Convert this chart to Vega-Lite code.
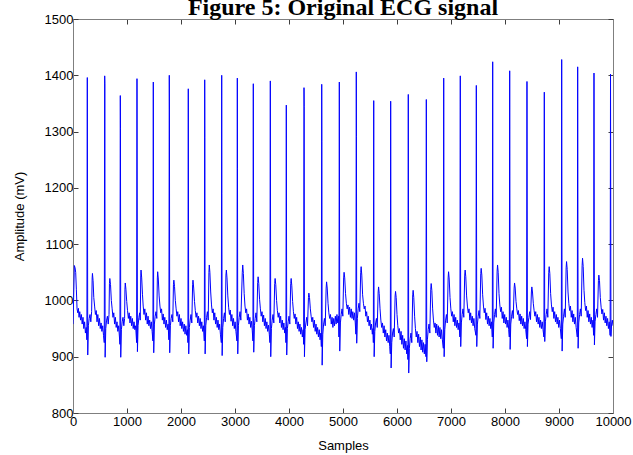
{
"$schema": "https://vega.github.io/schema/vega-lite/v6.json",
"width": 540, "height": 394,
"autosize": {"type": "none"},
"padding": {"left": 73, "top": 19, "right": 20, "bottom": 42},
"background": "white",
"title": {"text": "Figure 5: Original ECG signal", "font": "Liberation Serif", "fontSize": 24, "fontWeight": "bold", "color": "black", "anchor": "middle", "baseline": "alphabetic", "offset": 0, "dy": 26},
"data": {"values": [
{"s":0,"v":958},{"s":12,"v":1005},{"s":25,"v":1062},{"s":38,"v":1058},{"s":50,"v":1050},{"s":62,"v":1020},{"s":75,"v":985},{"s":88,"v":978},{"s":100,"v":986},{"s":112,"v":970},{"s":125,"v":980},{"s":140,"v":965},{"s":155,"v":975},{"s":170,"v":958},{"s":185,"v":970},{"s":200,"v":950},{"s":215,"v":962},{"s":230,"v":942},{"s":245,"v":952},{"s":257,"v":930},
{"s":265,"v":1396},{"s":273,"v":903},{"s":285,"v":955},{"s":300,"v":968},{"s":315,"v":975},{"s":330,"v":962},{"s":345,"v":980},{"s":355,"v":1040},{"s":360,"v":1048},{"s":372,"v":1035},{"s":385,"v":1005},{"s":400,"v":990},{"s":415,"v":975},{"s":430,"v":982},{"s":445,"v":962},{"s":460,"v":975},{"s":475,"v":955},{"s":490,"v":968},{"s":505,"v":950},{"s":520,"v":960},{"s":535,"v":945},{"s":550,"v":955},{"s":565,"v":938},{"s":579,"v":925},
{"s":587,"v":1399},{"s":590,"v":1385},{"s":595,"v":899},{"s":607,"v":950},{"s":622,"v":965},{"s":637,"v":972},{"s":652,"v":958},{"s":667,"v":975},{"s":675,"v":1030},{"s":682,"v":1039},{"s":695,"v":1028},{"s":710,"v":1000},{"s":725,"v":985},{"s":740,"v":970},{"s":755,"v":978},{"s":770,"v":958},{"s":785,"v":970},{"s":800,"v":952},{"s":815,"v":962},{"s":830,"v":945},{"s":845,"v":955},{"s":860,"v":935},{"s":869,"v":922},
{"s":876,"v":1364},{"s":879,"v":1305},{"s":884,"v":899},{"s":896,"v":948},{"s":911,"v":962},{"s":926,"v":970},{"s":941,"v":955},{"s":956,"v":968},{"s":962,"v":1020},{"s":968,"v":1031},{"s":980,"v":1020},{"s":995,"v":998},{"s":1010,"v":982},{"s":1025,"v":968},{"s":1040,"v":978},{"s":1055,"v":960},{"s":1070,"v":972},{"s":1085,"v":955},{"s":1100,"v":968},{"s":1115,"v":950},{"s":1130,"v":962},{"s":1145,"v":948},{"s":1160,"v":955},{"s":1172,"v":935},{"s":1178,"v":925},
{"s":1185,"v":1394},{"s":1193,"v":909},{"s":1205,"v":955},{"s":1220,"v":970},{"s":1235,"v":978},{"s":1245,"v":965},{"s":1255,"v":1045},{"s":1260,"v":1054},{"s":1272,"v":1040},{"s":1287,"v":1010},{"s":1300,"v":990},{"s":1315,"v":975},{"s":1330,"v":985},{"s":1345,"v":965},{"s":1360,"v":978},{"s":1375,"v":958},{"s":1390,"v":972},{"s":1405,"v":955},{"s":1420,"v":965},{"s":1435,"v":950},{"s":1450,"v":962},{"s":1465,"v":945},{"s":1480,"v":928},
{"s":1487,"v":1388},{"s":1495,"v":907},{"s":1507,"v":958},{"s":1522,"v":972},{"s":1537,"v":980},{"s":1552,"v":968},{"s":1562,"v":1040},{"s":1568,"v":1051},{"s":1580,"v":1038},{"s":1595,"v":1008},{"s":1610,"v":990},{"s":1625,"v":978},{"s":1640,"v":985},{"s":1655,"v":965},{"s":1670,"v":976},{"s":1685,"v":958},{"s":1700,"v":970},{"s":1715,"v":952},{"s":1730,"v":965},{"s":1745,"v":948},{"s":1760,"v":958},{"s":1776,"v":930},
{"s":1783,"v":1400},{"s":1786,"v":1340},{"s":1791,"v":907},{"s":1803,"v":955},{"s":1818,"v":968},{"s":1833,"v":975},{"s":1848,"v":962},{"s":1860,"v":1028},{"s":1868,"v":1036},{"s":1880,"v":1025},{"s":1895,"v":1000},{"s":1910,"v":985},{"s":1925,"v":972},{"s":1940,"v":980},{"s":1955,"v":962},{"s":1970,"v":975},{"s":1985,"v":955},{"s":2000,"v":968},{"s":2015,"v":950},{"s":2030,"v":962},{"s":2045,"v":945},{"s":2060,"v":958},{"s":2075,"v":940},{"s":2090,"v":955},{"s":2105,"v":938},{"s":2120,"v":948},{"s":2128,"v":925},
{"s":2135,"v":1376},{"s":2143,"v":905},{"s":2155,"v":952},{"s":2170,"v":965},{"s":2185,"v":975},{"s":2200,"v":960},{"s":2215,"v":1028},{"s":2222,"v":1036},{"s":2235,"v":1022},{"s":2250,"v":998},{"s":2265,"v":982},{"s":2280,"v":970},{"s":2295,"v":978},{"s":2310,"v":960},{"s":2325,"v":972},{"s":2340,"v":955},{"s":2355,"v":968},{"s":2370,"v":950},{"s":2385,"v":962},{"s":2400,"v":945},{"s":2415,"v":955},{"s":2432,"v":928},
{"s":2439,"v":1392},{"s":2442,"v":1290},{"s":2447,"v":905},{"s":2459,"v":955},{"s":2474,"v":970},{"s":2489,"v":980},{"s":2504,"v":965},{"s":2517,"v":1050},{"s":2524,"v":1063},{"s":2535,"v":1050},{"s":2550,"v":1015},{"s":2565,"v":992},{"s":2580,"v":978},{"s":2595,"v":985},{"s":2610,"v":965},{"s":2625,"v":978},{"s":2640,"v":958},{"s":2655,"v":970},{"s":2670,"v":952},{"s":2685,"v":965},{"s":2700,"v":948},{"s":2715,"v":958},{"s":2730,"v":940},{"s":2747,"v":925},
{"s":2754,"v":1400},{"s":2757,"v":1190},{"s":2762,"v":902},{"s":2774,"v":952},{"s":2789,"v":968},{"s":2804,"v":978},{"s":2819,"v":962},{"s":2832,"v":1045},{"s":2840,"v":1054},{"s":2852,"v":1040},{"s":2867,"v":1008},{"s":2882,"v":988},{"s":2897,"v":975},{"s":2912,"v":983},{"s":2927,"v":963},{"s":2942,"v":975},{"s":2957,"v":955},{"s":2972,"v":968},{"s":2987,"v":950},{"s":3002,"v":962},{"s":3017,"v":945},{"s":3036,"v":928},
{"s":3043,"v":1395},{"s":3046,"v":1235},{"s":3051,"v":905},{"s":3063,"v":955},{"s":3078,"v":970},{"s":3093,"v":980},{"s":3108,"v":965},{"s":3135,"v":1050},{"s":3143,"v":1063},{"s":3155,"v":1048},{"s":3170,"v":1012},{"s":3185,"v":990},{"s":3200,"v":978},{"s":3215,"v":985},{"s":3230,"v":965},{"s":3245,"v":976},{"s":3260,"v":958},{"s":3275,"v":970},{"s":3290,"v":952},{"s":3305,"v":963},{"s":3320,"v":946},{"s":3332,"v":928},
{"s":3339,"v":1385},{"s":3347,"v":908},{"s":3359,"v":955},{"s":3374,"v":968},{"s":3389,"v":978},{"s":3404,"v":962},{"s":3420,"v":1032},{"s":3428,"v":1042},{"s":3440,"v":1030},{"s":3455,"v":1002},{"s":3470,"v":985},{"s":3485,"v":972},{"s":3500,"v":980},{"s":3515,"v":962},{"s":3530,"v":974},{"s":3545,"v":955},{"s":3560,"v":968},{"s":3575,"v":950},{"s":3590,"v":962},{"s":3605,"v":945},{"s":3620,"v":956},{"s":3635,"v":940},{"s":3647,"v":925},
{"s":3654,"v":1390},{"s":3662,"v":900},{"s":3674,"v":950},{"s":3689,"v":965},{"s":3704,"v":975},{"s":3719,"v":960},{"s":3735,"v":1030},{"s":3743,"v":1039},{"s":3755,"v":1028},{"s":3770,"v":1000},{"s":3785,"v":982},{"s":3800,"v":970},{"s":3815,"v":978},{"s":3830,"v":960},{"s":3845,"v":972},{"s":3860,"v":952},{"s":3875,"v":965},{"s":3890,"v":948},{"s":3905,"v":960},{"s":3920,"v":942},{"s":3935,"v":952},{"s":3943,"v":925},
{"s":3950,"v":1347},{"s":3958,"v":903},{"s":3970,"v":950},{"s":3985,"v":962},{"s":4000,"v":972},{"s":4015,"v":958},{"s":4032,"v":1030},{"s":4040,"v":1039},{"s":4052,"v":1026},{"s":4067,"v":998},{"s":4082,"v":980},{"s":4097,"v":968},{"s":4112,"v":976},{"s":4127,"v":958},{"s":4142,"v":970},{"s":4157,"v":950},{"s":4172,"v":962},{"s":4187,"v":945},{"s":4202,"v":958},{"s":4217,"v":940},{"s":4232,"v":952},{"s":4247,"v":935},{"s":4262,"v":948},{"s":4271,"v":922},
{"s":4278,"v":1378},{"s":4281,"v":1345},{"s":4286,"v":900},{"s":4298,"v":948},{"s":4313,"v":960},{"s":4328,"v":970},{"s":4343,"v":955},{"s":4360,"v":1005},{"s":4368,"v":1013},{"s":4380,"v":1005},{"s":4395,"v":985},{"s":4410,"v":972},{"s":4425,"v":962},{"s":4440,"v":970},{"s":4455,"v":952},{"s":4470,"v":965},{"s":4485,"v":945},{"s":4500,"v":958},{"s":4515,"v":940},{"s":4530,"v":952},{"s":4545,"v":935},{"s":4560,"v":948},{"s":4575,"v":930},{"s":4590,"v":942},{"s":4599,"v":918},
{"s":4606,"v":1384},{"s":4609,"v":1282},{"s":4614,"v":885},{"s":4626,"v":940},{"s":4641,"v":958},{"s":4656,"v":968},{"s":4671,"v":955},{"s":4688,"v":1022},{"s":4696,"v":1033},{"s":4708,"v":1022},{"s":4723,"v":995},{"s":4738,"v":978},{"s":4753,"v":968},{"s":4768,"v":975},{"s":4783,"v":958},{"s":4798,"v":970},{"s":4813,"v":952},{"s":4828,"v":968},{"s":4843,"v":955},{"s":4858,"v":972},{"s":4873,"v":958},{"s":4888,"v":975},{"s":4903,"v":960},{"s":4918,"v":972},{"s":4925,"v":935},
{"s":4932,"v":1388},{"s":4940,"v":910},{"s":4952,"v":960},{"s":4967,"v":975},{"s":4982,"v":985},{"s":4997,"v":972},{"s":5012,"v":1040},{"s":5020,"v":1050},{"s":5032,"v":1040},{"s":5047,"v":1012},{"s":5062,"v":995},{"s":5077,"v":985},{"s":5092,"v":992},{"s":5107,"v":975},{"s":5122,"v":988},{"s":5137,"v":970},{"s":5152,"v":985},{"s":5167,"v":968},{"s":5182,"v":980},{"s":5197,"v":965},{"s":5212,"v":978},{"s":5227,"v":960},{"s":5239,"v":940},
{"s":5246,"v":1406},{"s":5249,"v":1291},{"s":5254,"v":924},{"s":5266,"v":968},{"s":5281,"v":985},{"s":5296,"v":995},{"s":5311,"v":980},{"s":5328,"v":1050},{"s":5336,"v":1060},{"s":5348,"v":1045},{"s":5363,"v":1010},{"s":5378,"v":995},{"s":5393,"v":985},{"s":5408,"v":990},{"s":5423,"v":972},{"s":5438,"v":980},{"s":5453,"v":962},{"s":5468,"v":972},{"s":5483,"v":955},{"s":5498,"v":965},{"s":5513,"v":948},{"s":5528,"v":958},{"s":5543,"v":940},{"s":5555,"v":950},{"s":5562,"v":925},
{"s":5569,"v":1355},{"s":5572,"v":1125},{"s":5577,"v":900},{"s":5589,"v":945},{"s":5604,"v":960},{"s":5619,"v":968},{"s":5634,"v":952},{"s":5651,"v":1015},{"s":5659,"v":1024},{"s":5671,"v":1012},{"s":5686,"v":985},{"s":5701,"v":965},{"s":5716,"v":952},{"s":5731,"v":960},{"s":5746,"v":942},{"s":5761,"v":955},{"s":5776,"v":935},{"s":5791,"v":948},{"s":5806,"v":928},{"s":5821,"v":942},{"s":5836,"v":925},{"s":5851,"v":938},{"s":5866,"v":918},{"s":5876,"v":905},
{"s":5883,"v":1354},{"s":5891,"v":880},{"s":5903,"v":925},{"s":5918,"v":942},{"s":5933,"v":950},{"s":5948,"v":935},{"s":5965,"v":1008},{"s":5973,"v":1016},{"s":5985,"v":1005},{"s":6000,"v":975},{"s":6015,"v":955},{"s":6030,"v":942},{"s":6045,"v":950},{"s":6060,"v":930},{"s":6075,"v":945},{"s":6090,"v":922},{"s":6105,"v":938},{"s":6120,"v":915},{"s":6135,"v":932},{"s":6150,"v":912},{"s":6165,"v":928},{"s":6180,"v":905},{"s":6195,"v":920},{"s":6202,"v":895},
{"s":6209,"v":1366},{"s":6217,"v":871},{"s":6229,"v":915},{"s":6244,"v":932},{"s":6259,"v":942},{"s":6274,"v":925},{"s":6291,"v":1010},{"s":6299,"v":1018},{"s":6311,"v":1005},{"s":6326,"v":972},{"s":6341,"v":950},{"s":6356,"v":935},{"s":6371,"v":945},{"s":6386,"v":925},{"s":6401,"v":940},{"s":6416,"v":918},{"s":6431,"v":935},{"s":6446,"v":912},{"s":6461,"v":930},{"s":6476,"v":908},{"s":6491,"v":925},{"s":6506,"v":905},{"s":6521,"v":922},{"s":6536,"v":900},
{"s":6543,"v":1357},{"s":6551,"v":891},{"s":6563,"v":930},{"s":6578,"v":948},{"s":6593,"v":958},{"s":6608,"v":942},{"s":6625,"v":1020},{"s":6633,"v":1030},{"s":6645,"v":1018},{"s":6660,"v":985},{"s":6675,"v":965},{"s":6690,"v":952},{"s":6705,"v":960},{"s":6720,"v":942},{"s":6735,"v":958},{"s":6750,"v":938},{"s":6765,"v":955},{"s":6780,"v":935},{"s":6795,"v":952},{"s":6810,"v":932},{"s":6825,"v":948},{"s":6840,"v":930},{"s":6858,"v":915},
{"s":6865,"v":1395},{"s":6873,"v":900},{"s":6885,"v":948},{"s":6900,"v":965},{"s":6915,"v":975},{"s":6930,"v":960},{"s":6947,"v":1040},{"s":6955,"v":1051},{"s":6967,"v":1038},{"s":6982,"v":1005},{"s":6997,"v":985},{"s":7012,"v":972},{"s":7027,"v":980},{"s":7042,"v":962},{"s":7057,"v":975},{"s":7072,"v":955},{"s":7087,"v":970},{"s":7102,"v":952},{"s":7117,"v":965},{"s":7132,"v":948},{"s":7147,"v":960},{"s":7165,"v":935},
{"s":7172,"v":1399},{"s":7180,"v":918},{"s":7192,"v":960},{"s":7207,"v":975},{"s":7222,"v":985},{"s":7237,"v":970},{"s":7254,"v":1045},{"s":7262,"v":1054},{"s":7274,"v":1042},{"s":7289,"v":1008},{"s":7304,"v":990},{"s":7319,"v":978},{"s":7334,"v":985},{"s":7349,"v":965},{"s":7364,"v":978},{"s":7379,"v":960},{"s":7394,"v":972},{"s":7409,"v":955},{"s":7424,"v":968},{"s":7439,"v":950},{"s":7462,"v":938},
{"s":7469,"v":1382},{"s":7477,"v":918},{"s":7489,"v":958},{"s":7504,"v":972},{"s":7519,"v":982},{"s":7534,"v":968},{"s":7551,"v":1048},{"s":7559,"v":1057},{"s":7571,"v":1045},{"s":7586,"v":1010},{"s":7601,"v":990},{"s":7616,"v":978},{"s":7631,"v":986},{"s":7646,"v":966},{"s":7661,"v":978},{"s":7676,"v":958},{"s":7691,"v":972},{"s":7706,"v":955},{"s":7721,"v":968},{"s":7736,"v":950},{"s":7751,"v":962},{"s":7765,"v":935},
{"s":7772,"v":1424},{"s":7780,"v":915},{"s":7792,"v":960},{"s":7807,"v":975},{"s":7822,"v":985},{"s":7837,"v":970},{"s":7854,"v":1052},{"s":7862,"v":1063},{"s":7874,"v":1050},{"s":7889,"v":1012},{"s":7904,"v":992},{"s":7919,"v":980},{"s":7934,"v":988},{"s":7949,"v":968},{"s":7964,"v":980},{"s":7979,"v":960},{"s":7994,"v":975},{"s":8009,"v":958},{"s":8024,"v":970},{"s":8039,"v":952},{"s":8054,"v":965},{"s":8069,"v":948},{"s":8080,"v":935},
{"s":8087,"v":1408},{"s":8095,"v":913},{"s":8107,"v":958},{"s":8122,"v":972},{"s":8137,"v":982},{"s":8152,"v":968},{"s":8169,"v":1022},{"s":8177,"v":1031},{"s":8189,"v":1022},{"s":8204,"v":998},{"s":8219,"v":985},{"s":8234,"v":975},{"s":8249,"v":982},{"s":8264,"v":964},{"s":8279,"v":976},{"s":8294,"v":958},{"s":8309,"v":972},{"s":8324,"v":955},{"s":8339,"v":968},{"s":8354,"v":950},{"s":8369,"v":962},{"s":8384,"v":948},{"s":8400,"v":932},
{"s":8407,"v":1389},{"s":8415,"v":918},{"s":8427,"v":958},{"s":8442,"v":970},{"s":8457,"v":980},{"s":8472,"v":966},{"s":8489,"v":1015},{"s":8497,"v":1024},{"s":8509,"v":1015},{"s":8524,"v":995},{"s":8539,"v":982},{"s":8554,"v":972},{"s":8569,"v":980},{"s":8584,"v":962},{"s":8599,"v":975},{"s":8614,"v":958},{"s":8629,"v":970},{"s":8644,"v":952},{"s":8659,"v":965},{"s":8674,"v":950},{"s":8689,"v":962},{"s":8704,"v":948},{"s":8721,"v":935},
{"s":8728,"v":1370},{"s":8736,"v":927},{"s":8748,"v":962},{"s":8763,"v":975},{"s":8778,"v":985},{"s":8793,"v":970},{"s":8810,"v":1050},{"s":8818,"v":1060},{"s":8830,"v":1048},{"s":8845,"v":1012},{"s":8860,"v":992},{"s":8875,"v":980},{"s":8890,"v":988},{"s":8905,"v":968},{"s":8920,"v":980},{"s":8935,"v":962},{"s":8950,"v":975},{"s":8965,"v":958},{"s":8980,"v":970},{"s":8995,"v":952},{"s":9010,"v":965},{"s":9025,"v":950},{"s":9043,"v":932},
{"s":9050,"v":1428},{"s":9058,"v":910},{"s":9070,"v":958},{"s":9085,"v":972},{"s":9100,"v":985},{"s":9115,"v":970},{"s":9132,"v":1058},{"s":9140,"v":1069},{"s":9152,"v":1055},{"s":9167,"v":1015},{"s":9182,"v":995},{"s":9197,"v":982},{"s":9212,"v":990},{"s":9227,"v":970},{"s":9242,"v":982},{"s":9257,"v":962},{"s":9272,"v":976},{"s":9287,"v":958},{"s":9302,"v":970},{"s":9317,"v":952},{"s":9339,"v":935},
{"s":9346,"v":1415},{"s":9354,"v":915},{"s":9366,"v":960},{"s":9381,"v":975},{"s":9396,"v":985},{"s":9411,"v":972},{"s":9428,"v":1062},{"s":9436,"v":1075},{"s":9448,"v":1060},{"s":9463,"v":1018},{"s":9478,"v":996},{"s":9493,"v":982},{"s":9508,"v":990},{"s":9523,"v":970},{"s":9538,"v":982},{"s":9553,"v":962},{"s":9568,"v":976},{"s":9583,"v":958},{"s":9598,"v":970},{"s":9613,"v":952},{"s":9628,"v":965},{"s":9641,"v":938},
{"s":9648,"v":1404},{"s":9656,"v":921},{"s":9668,"v":962},{"s":9683,"v":975},{"s":9698,"v":985},{"s":9713,"v":970},{"s":9730,"v":1035},{"s":9738,"v":1045},{"s":9750,"v":1035},{"s":9765,"v":1005},{"s":9780,"v":988},{"s":9795,"v":976},{"s":9810,"v":984},{"s":9825,"v":965},{"s":9840,"v":978},{"s":9855,"v":960},{"s":9870,"v":972},{"s":9885,"v":955},{"s":9900,"v":968},{"s":9915,"v":950},{"s":9930,"v":962},{"s":9947,"v":938},
{"s":9954,"v":1402},{"s":9962,"v":936},{"s":9974,"v":958},{"s":9987,"v":965},{"s":10000,"v":955}
]},
"layer": [
{"mark": {"type": "line", "color": "#0000ff", "strokeWidth": 1, "clip": true},
 "encoding": {
  "x": {"field": "s", "type": "quantitative", "scale": {"domain": [0, 10000], "nice": false},
        "axis": {"orient": "bottom", "values": [0,1000,2000,3000,4000,5000,6000,7000,8000,9000,10000], "format": "d", "title": "Samples", "labelPadding": 7, "titlePadding": 11}},
  "y": {"field": "v", "type": "quantitative", "scale": {"domain": [800, 1500], "nice": false, "zero": false},
        "axis": {"orient": "left", "values": [800,900,1000,1100,1200,1300,1400,1500], "format": "d", "title": "Amplitude (mV)", "labelPadding": 5, "titlePadding": 18}}
 }},
{"mark": {"type": "line", "strokeOpacity": 0},
 "encoding": {
  "x": {"field": "s", "type": "quantitative", "axis": {"orient": "top", "values": [0,1000,2000,3000,4000,5000,6000,7000,8000,9000,10000], "labels": false, "title": null}},
  "y": {"field": "v", "type": "quantitative", "axis": {"orient": "right", "values": [800,900,1000,1100,1200,1300,1400,1500], "labels": false, "title": null}}
 }}
],
"resolve": {"axis": {"x": "independent", "y": "independent"}},
"config": {
 "view": {"stroke": null},
 "axis": {"domainColor": "#7f7f7f", "domainWidth": 1, "tickColor": "#3f3f3f", "tickSize": -5, "grid": false, "labelFlush": false, "labelOverlap": false,
          "labelFont": "Liberation Sans", "labelFontSize": 13, "labelColor": "#000000",
          "titleFont": "Liberation Sans", "titleFontSize": 13, "titleFontWeight": "normal", "titleColor": "#000000"}
}
}
